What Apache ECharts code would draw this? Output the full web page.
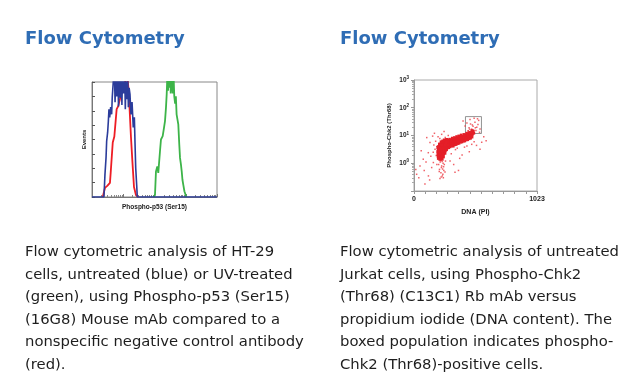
<!DOCTYPE html>
<html>
<head>
<meta charset="utf-8">
<style>
html,body{margin:0;padding:0;background:#fff;}
#c{width:639px;height:389px;}
</style>
<script src="https://cdn.jsdelivr.net/npm/echarts/dist/echarts.min.js"></script>
</head>
<body>
<div id="c"></div>
<script>
// ---------- DATA ----------
var titleLeft = 'Flow Cytometry';
var titleRight = 'Flow Cytometry';
var captionLeft = [
  'Flow cytometric analysis of HT-29',
  'cells, untreated (blue) or UV-treated',
  '(green), using Phospho-p53 (Ser15)',
  '(16G8) Mouse mAb compared to a',
  'nonspecific negative control antibody',
  '(red).'
];
var captionRight = [
  'Flow cytometric analysis of untreated',
  'Jurkat cells, using Phospho-Chk2',
  '(Thr68) (C13C1) Rb mAb versus',
  'propidium iodide (DNA content). The',
  'boxed population indicates phospho-',
  'Chk2 (Thr68)-positive cells.'
];

// Histogram: [channel, events]
var histXName = 'Phospho-p53 (Ser15)';
var histYName = 'Events';
var blueHist = [[0,0],[98,0],[106,154],[115,274],[120,388],[128,449],[134,528],[139,610],[145,554],[153,625],[161,575],[166,695],[175,810],[182,950],[189,660],[196,930],[203,700],[210,960],[217,630],[224,900],[231,690],[238,950],[245,640],[252,920],[259,720],[266,960],[273,610],[280,900],[287,680],[293,820],[298,625],[304,760],[311,716],[319,575],[328,660],[338,484],[347,555],[352,388],[358,203],[366,84],[371,0],[1023,0]];
var redHist = [[88,0],[106,63],[125,77],[147,98],[153,168],[170,379],[183,421],[202,611],[215,632],[229,681],[243,730],[262,772],[278,820],[288,860],[295,790],[301,730],[311,561],[319,421],[330,260],[344,70],[360,14],[379,0]];
var greenHist = [[505,0],[516,14],[524,178],[535,213],[543,168],[557,318],[565,400],[579,423],[590,482],[598,528],[606,622],[612,716],[617,840],[623,740],[628,870],[633,760],[639,900],[645,720],[650,880],[656,790],[662,720],[668,850],[674,700],[681,650],[687,700],[693,575],[700,540],[707,505],[715,365],[721,272],[728,230],[735,178],[741,120],[748,84],[757,40],[767,14],[772,0]];

// Scatter: [DNA (PI) channel, Phospho-Chk2 intensity]
var scatterXName = 'DNA (PI)';
var scatterYName = 'Phospho-Chk2 (Thr68)';
var scatterXLabels = ['0', '1023'];
var gateBox = [428, 11.8, 561, 48];
// dense G1 population
var scatterCore = [
 [200,2.1],[204,2.8],[207,1.7],[210,3.4],[212,2.4],[215,1.9],[217,4.1],[219,2.9],[221,1.5],[223,3.6],[225,2.2],[227,5.0],[229,2.7],[231,1.8],[233,3.9],[235,2.5],[237,4.6],[239,3.1],[241,2.0],[243,5.5],[245,3.4],[247,2.6],[249,4.3],[251,6.0],[253,3.0],[255,4.8],[257,2.3],[259,5.8],[261,3.7],[263,6.5],[265,4.4],[267,5.2],[269,6.9],[271,4.0],[273,5.6],[275,6.3],[278,4.9],[281,5.9],[284,6.6],
 [202,3.2],[205,4.0],[208,2.5],[211,1.6],[213,3.0],[216,2.6],[218,1.4],[220,4.7],[222,2.0],[224,3.1],[226,1.6],[228,3.9],[230,4.8],[232,2.3],[234,1.4],[236,3.3],[238,2.1],[240,4.0],[242,2.9],[244,1.7],[246,4.9],[248,3.6],[250,2.4],[252,5.1],[254,3.9],[256,6.4],[258,4.2],[260,2.9],[262,5.0],[264,3.5],[266,6.1],[268,4.7],[270,5.7],[272,3.4],[274,6.8],[276,5.3],[279,6.1],[282,4.6],
 [198,2.6],[201,1.8],[206,3.6],[209,2.0],[214,4.4],[219,3.8],[224,4.3],[228,1.9],[233,2.7],[238,5.2],[243,3.8],[248,5.6],[253,4.5],[258,3.4],[263,4.1],[268,5.9],[273,7.2],[277,5.7],
 [203,1.5],[209,2.9],[214,3.5],[218,2.2],[223,1.7],[227,3.3],[232,4.4],[236,1.9],[241,3.6],[245,2.2],[250,3.2],[255,2.7],[260,4.6],[265,5.6],[270,3.1],[199,3.7],[212,4.9],[226,5.9],[239,6.3],[252,6.9]
];
// S / G2 band
var scatterBand = [
 [286,4.2],[289,5.6],[292,6.5],[295,4.8],[298,5.9],[301,4.4],[304,6.8],[307,5.2],[310,6.1],[313,4.7],[316,7.0],[319,5.5],[322,6.4],[325,4.9],[328,7.3],[331,5.8],[334,6.7],[337,5.1],[340,7.6],[343,6.0],[346,6.9],[349,5.3],[352,7.9],[355,6.2],[358,7.1],[361,5.6],[364,8.2],[367,6.5],[370,7.4],[373,5.9],[376,8.5],[379,6.8],[382,7.8],[385,6.1],[388,8.9],[391,7.1],[394,8.1],[397,6.4],[400,9.3],[403,7.4],[406,8.5],[409,6.8],[412,9.7],[415,7.8],[418,8.9],[421,7.1],[424,10.2],[427,8.2],[430,9.4],[433,7.5],[436,10.8],[439,8.6],[442,9.9],[445,8.0],[448,11.3],[451,9.1],[454,10.5],[457,8.5],[460,12.0],[463,9.7],[466,11.1],[469,9.0],[472,12.7],[475,10.3],[478,11.8],[481,9.6],[484,13.4],[487,11.0],[490,12.5],[494,14.2],[498,12.0],
 [290,3.6],[302,3.9],[311,4.2],[327,4.1],[339,4.6],[351,4.7],[363,5.1],[375,5.2],[387,5.7],[399,5.8],[411,6.2],[423,6.3],[435,6.9],[447,7.0],[459,7.6],[471,7.9],[483,8.7],
 [296,7.4],[318,8.1],[336,8.5],[354,9.2],[372,9.7],[392,10.5],[414,11.0],[438,12.2],[462,13.1],[480,15.2]
];
// scattered events
var scatterSparse = [
 [452,14.8],[466,38],[507,30],[522,20],[480,17],[532,25],[491,21.5],[449,14.6],[549,17],[408,33],[470,26],[500,42],[515,15],[538,35],[485,24],[458,19],[545,13],[495,16],[475,13.5],[425,22],[440,28],[510,19],[528,40],[462,17],
 [205,0.9],[212,0.6],[218,1.1],[224,0.45],[230,0.8],[236,0.35],[242,1.0],[248,0.55],[216,0.28],[228,0.7],[240,0.4],[252,0.9],[220,1.25],[234,1.15],[246,0.75],[210,0.5],[226,0.32],[238,0.62],[258,0.48],[262,1.2],[208,1.3],[244,0.3],[341,0.47],
 [310,2.2],[345,3.1],[380,1.5],[420,3.8],[460,2.6],[520,4.4],[549,3.2],[563,5.7],[600,6.5],[330,0.9],[400,2.0],[480,4.8],[300,1.2],[360,3.5],[440,4.2],[500,6.0],[580,9.0],[370,0.55],
 [22,0.4],[91,0.18],[133,5.6],[119,2.4],[161,1.06],[77,1.4],[147,0.7],[175,3.2],[50,0.8],[106,8.4],[15,0.6],[60,2.8],[140,1.8],[165,4.5],[185,1.9],[120,0.35],[100,1.1],[180,6.2],[155,9.5],[190,0.9],[170,12],[130,0.25],[85,0.55],[40,0.3],[190,4.0],[160,2.5],
 [200,9],[230,11],[260,8.5],[250,14],[215,7.8],[285,10]
];

// ---------- CHART ----------
var chart = echarts.init(document.getElementById('c'), null, {renderer: 'canvas'});
var axisFont = '"Liberation Sans", Arial, sans-serif';
var capFont = '14.8px "DejaVu Sans", Verdana, sans-serif';

function textBlock(lines, x, y) {
  return {
    type: 'text', x: x, y: y, silent: true,
    style: {text: lines.join('\n'), font: capFont, fill: '#1e1e1e', lineHeight: 22.5, verticalAlign: 'top', align: 'left'}
  };
}

var option = {
  animation: false,
  backgroundColor: '#fff',
  grid: [
    {left: 92, top: 82, width: 125, height: 115, show: true, borderColor: '#888', borderWidth: 1, backgroundColor: '#fff'},
    {left: 414, top: 80, width: 123, height: 111, show: true, borderColor: '#aaa', borderWidth: 1, backgroundColor: '#fff'}
  ],
  xAxis: [
    {gridIndex: 0, type: 'value', min: 0, max: 1024, splitLine: {show: false},
     axisLine: {show: true, lineStyle: {color: '#777', width: 1}}, axisTick: {show: false}, axisLabel: {show: false},
     name: histXName, nameLocation: 'middle', nameGap: 7,
     nameTextStyle: {fontFamily: axisFont, fontSize: 6.5, fontWeight: 'bold', color: '#222'}},
    {gridIndex: 0, type: 'log', logBase: 10, min: 1, max: 10000, position: 'bottom', splitLine: {show: false},
     axisLine: {show: false}, axisLabel: {show: false},
     axisTick: {show: true, inside: true, length: 3, lineStyle: {color: '#777'}},
     minorTick: {show: true, splitNumber: 9, length: 2, lineStyle: {color: '#888'}}},
    {gridIndex: 1, type: 'value', min: 0, max: 1023, interval: 93, splitLine: {show: false},
     axisLine: {show: true, lineStyle: {color: '#999', width: 1}},
     axisTick: {show: true, length: 3, lineStyle: {color: '#999'}},
     axisLabel: {show: true, margin: 5, fontFamily: axisFont, fontSize: 7, fontWeight: 'bold', color: '#222',
       formatter: function (v) { if (v === 0) return scatterXLabels[0]; if (v === 1023) return scatterXLabels[1]; return ''; }},
     name: scatterXName, nameLocation: 'middle', nameGap: 18,
     nameTextStyle: {fontFamily: axisFont, fontSize: 7, fontWeight: 'bold', color: '#222'}}
  ],
  yAxis: [
    {gridIndex: 0, type: 'value', min: 0, max: 800, interval: 100, splitLine: {show: false},
     axisLine: {show: true, lineStyle: {color: '#777', width: 1}},
     axisTick: {show: true, inside: true, length: 3, lineStyle: {color: '#555'}}, axisLabel: {show: false},
     name: histYName, nameLocation: 'middle', nameGap: 5, nameRotate: 90,
     nameTextStyle: {fontFamily: axisFont, fontSize: 6, fontWeight: 'bold', color: '#222'}},
    {gridIndex: 1, type: 'log', logBase: 10, min: 0.1, max: 1000, splitLine: {show: false},
     axisLine: {show: true, lineStyle: {color: '#999', width: 1}},
     axisTick: {show: true, length: 3, lineStyle: {color: '#999'}},
     minorTick: {show: true, splitNumber: 9, length: 2, lineStyle: {color: '#aaa'}},
     axisLabel: {show: true, margin: 5, color: '#222',
       formatter: function (v) { var e = Math.round(Math.log10(v)); if (e < 0) return ''; return '{b|10}{s|' + e + '}'; },
       rich: {b: {fontFamily: axisFont, fontSize: 6.5, fontWeight: 'bold', color: '#222'},
              s: {fontFamily: axisFont, fontSize: 4.5, fontWeight: 'bold', color: '#222', verticalAlign: 'top', padding: [0, 0, 4, 0]}}},
     name: scatterYName, nameLocation: 'middle', nameGap: 22, nameRotate: 90,
     nameTextStyle: {fontFamily: axisFont, fontSize: 6, fontWeight: 'bold', color: '#222'}}
  ],
  series: [
    {type: 'line', xAxisIndex: 0, yAxisIndex: 0, data: greenHist, showSymbol: false, symbol: 'none', lineStyle: {color: '#3db449', width: 1.8}},
    {type: 'line', xAxisIndex: 0, yAxisIndex: 0, data: redHist, showSymbol: false, symbol: 'none', lineStyle: {color: '#ee1d25', width: 1.8}},
    {type: 'line', xAxisIndex: 0, yAxisIndex: 0, data: blueHist, showSymbol: false, symbol: 'none', lineStyle: {color: '#2b3c9b', width: 1.6}},
    {type: 'scatter', xAxisIndex: 2, yAxisIndex: 1, data: scatterSparse, symbol: 'rect', symbolSize: 1.5,
     itemStyle: {color: '#ec3a42', opacity: 0.8},
     markArea: {silent: true, itemStyle: {color: 'rgba(0,0,0,0)', borderColor: '#777', borderWidth: 0.8},
       data: [[{coord: [gateBox[0], gateBox[1]]}, {coord: [gateBox[2], gateBox[3]]}]]}},
    {type: 'scatter', xAxisIndex: 2, yAxisIndex: 1, data: scatterBand, symbol: 'rect', symbolSize: 2.6,
     itemStyle: {color: '#e41f28', opacity: 1}},
    {type: 'scatter', xAxisIndex: 2, yAxisIndex: 1, data: scatterCore, symbol: 'rect', symbolSize: 3,
     itemStyle: {color: '#e41f28', opacity: 1}}
  ],
  graphic: [
    {type: 'text', x: 25, y: 39, silent: true, style: {text: titleLeft, font: 'bold 18px "DejaVu Sans", Verdana, sans-serif', fill: '#2f6db5', verticalAlign: 'middle'}},
    {type: 'text', x: 340, y: 39, silent: true, style: {text: titleRight, font: 'bold 18px "DejaVu Sans", Verdana, sans-serif', fill: '#2f6db5', verticalAlign: 'middle'}},
    textBlock(captionLeft, 25, 241),
    textBlock(captionRight, 340, 241)
  ]
};
chart.setOption(option);
</script>
</body>
</html>
